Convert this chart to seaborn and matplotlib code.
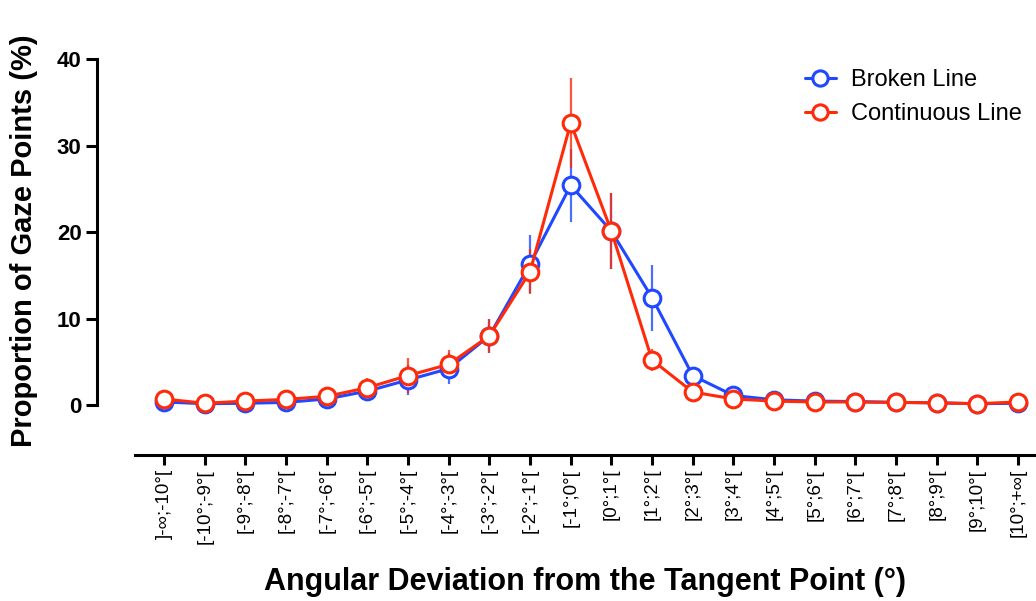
import seaborn as sns
import pandas as pd
import matplotlib.pyplot as plt
from matplotlib.lines import Line2D

bins = ["]-∞;-10°[", "[-10°;-9°[", "[-9°;-8°[", "[-8°;-7°[", "[-7°;-6°[", "[-6°;-5°[",
        "[-5°;-4°[", "[-4°;-3°[", "[-3°;-2°[", "[-2°;-1°[", "[-1°;0°[", "[0°;1°[",
        "[1°;2°[", "[2°;3°[", "[3°;4°[", "[4°;5°[", "[5°;6°[", "[6°;7°[", "[7°;8°[",
        "[8°;9°[", "[9°;10°[", "[10°;+∞["]

broken = [0.35, 0.15, 0.2, 0.3, 0.7, 1.6, 2.9, 4.2, 8.0, 16.3, 25.4, 20.1,
          12.4, 3.4, 1.1, 0.6, 0.45, 0.4, 0.3, 0.25, 0.15, 0.2]
broken_err = [0.2, 0.1, 0.1, 0.2, 0.3, 0.6, 1.7, 1.8, 2.0, 3.3, 4.2, 4.4,
              3.8, 0.6, 0.3, 0.2, 0.1, 0.1, 0.1, 0.1, 0.1, 0.1]
continuous = [0.7, 0.2, 0.45, 0.65, 1.0, 2.0, 3.4, 4.7, 8.0, 15.4, 32.6, 20.1,
              5.2, 1.5, 0.7, 0.45, 0.35, 0.35, 0.3, 0.25, 0.15, 0.35]
continuous_err = [0.3, 0.1, 0.2, 0.3, 0.4, 1.1, 2.0, 1.7, 2.0, 2.6, 5.2, 4.4,
                  1.3, 0.4, 0.2, 0.2, 0.1, 0.1, 0.1, 0.1, 0.1, 0.1]

series = ["Broken Line", "Continuous Line"]
colors = {"Broken Line": "#1f48ff", "Continuous Line": "#ff2a0a"}

sns.set_style("white", {"xtick.bottom": True, "ytick.left": True,
                        "text.color": "black", "axes.labelcolor": "black",
                        "xtick.color": "black", "ytick.color": "black"})
plt.rcParams['font.family'] = ['Liberation Sans', 'DejaVu Sans']

df = pd.DataFrame({
    "pos": list(range(len(bins))) * 2,
    "value": broken + continuous,
    "err": broken_err + continuous_err,
    "series": [series[0]] * len(bins) + [series[1]] * len(bins),
})

fig = plt.figure(figsize=(10.36, 6.01), dpi=100)
ax = fig.add_axes([135 / 1036, 1 - 455 / 601, 1 - 135 / 1036, (455 - 59) / 601])

# error bars behind the lines
for name in series:
    sub = df[df["series"] == name]
    ax.errorbar(sub["pos"], sub["value"], yerr=sub["err"], fmt="none",
                ecolor=colors[name], elinewidth=1.6, alpha=0.8, zorder=2)

sns.lineplot(data=df, x="pos", y="value", hue="series", palette=colors,
             marker="o", markersize=12, markerfacecolor="white",
             markeredgewidth=2.2, linewidth=2.2, ax=ax, legend=False,
             zorder=3, clip_on=False)
for ln in ax.lines:
    ln.set_markeredgecolor(ln.get_color())

# spine first: moving it resets the ticks
sns.despine(ax=ax)
ax.spines["left"].set_position(("outward", 27.4))
ax.spines["left"].set_bounds(0, 40)
for s in ("left", "bottom"):
    ax.spines[s].set_linewidth(2.2)
    ax.spines[s].set_color("black")

ax.set_xlim(-0.713, 21.44)
ax.set_ylim(-5.78, 40)
ax.set_yticks([0, 10, 20, 30, 40], ["0", "10", "20", "30", "40"],
              fontsize=16, fontweight="bold")
ax.set_xticks(range(len(bins)), bins, rotation=90, fontsize=13.5)
ax.tick_params(axis="y", length=8, width=2.2, color="black", pad=3)
ax.tick_params(axis="x", length=7.5, width=2.2, color="black", pad=2.5)

ax.set_xlabel("Angular Deviation from the Tangent Point (°)", fontsize=22,
              fontweight="bold", labelpad=17)
ax.set_ylabel("Proportion of Gaze Points (%)", fontsize=21, fontweight="bold")
ax.yaxis.set_label_coords(-0.1077, 0.54)

handles = [Line2D([], [], color=colors[n], marker="o", markersize=11,
                  markerfacecolor="white", markeredgewidth=2.2, linewidth=2.2)
           for n in series]
ax.legend(handles, series, loc="upper right", bbox_to_anchor=(1.0, 1.01),
          borderaxespad=0.2, frameon=False, fontsize=17, handlelength=1.3,
          handletextpad=0.65, labelspacing=0.5)

fig.savefig("out.png", dpi=100)
